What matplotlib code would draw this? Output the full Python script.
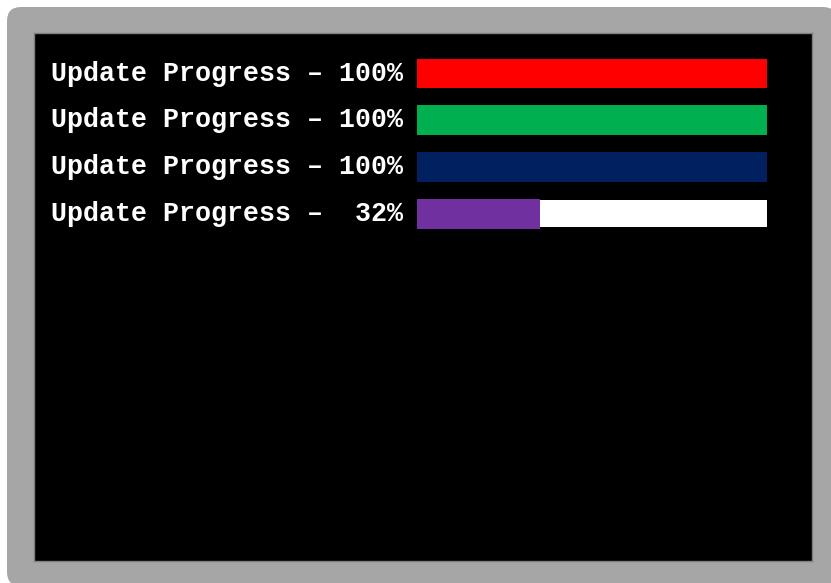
import numpy as np
import matplotlib.pyplot as plt
from matplotlib.patches import FancyBboxPatch, Rectangle

# data
labels = ["Update Progress \u2013 100%", "Update Progress \u2013 100%",
          "Update Progress \u2013 100%", "Update Progress \u2013  32%"]
fill = [100, 100, 100, 35]
track = [0, 0, 0, 100]
colors = ["#ff0000", "#00b050", "#002060", "#7030a0"]

W, H = 831, 583
fig = plt.figure(figsize=(W / 100, H / 100), dpi=100)
fig.patch.set_facecolor("white")

# grey rounded frame (pixel coords, y from bottom)
frame = FancyBboxPatch((7, -3), 830, 579, boxstyle="round,pad=0,rounding_size=14",
                       transform=None, facecolor="#a6a6a6", edgecolor="none", zorder=-1)
fig.patches.append(frame)

# black screen area
x0, x1, y0, y1 = 34, 812, 33, 561
ax = fig.add_axes([x0 / W, (H - y1) / H, (x1 - x0) / W, (y1 - y0) / H])
ax.set_facecolor("black")
for s in ax.spines.values():
    s.set_color("#7f7f7f")
    s.set_linewidth(1)
ax.set_xticks([])
ax.set_yticks([])

# map 0..100 to pixels 417..767
scale = 3.5
ax.set_xlim(-(417 - x0) / scale, (x1 - 417) / scale)
step = 46.8
ax.set_ylim((y1 - 73.5) / step, -(73.5 - y0) / step)

y = np.arange(len(labels))
ax.barh(y, track, left=0, height=0.58, color="white")
ax.barh(y, fill, left=0, height=0.64, color=colors)

for i, t in enumerate(labels):
    ax.text(-14 / scale, i, t, ha="right", va="center", color="white",
            fontsize=19.2, fontweight="bold", family=["Liberation Mono", "DejaVu Sans Mono"])

fig.savefig("out.png", dpi=100)
